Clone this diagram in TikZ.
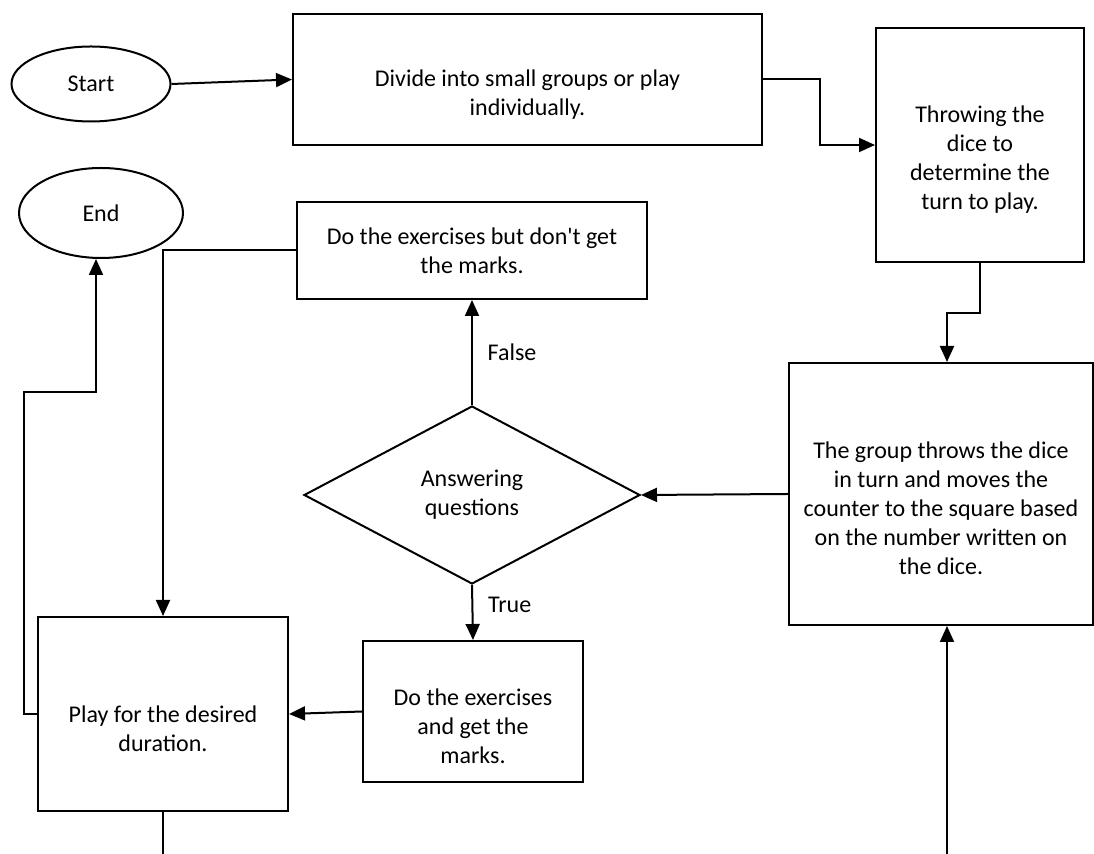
\documentclass[tikz,border=0pt]{standalone}
\usepackage{fontspec}
\setmainfont{Carlito}
\usetikzlibrary{arrows.meta,shapes.geometric}
\newcommand{\lowline}{\rule{0pt}{23pt}}

\begin{document}
\begin{tikzpicture}[x=0.5pt,y=-0.5pt,
  every node/.style={font=\fontsize{12}{14.5}\selectfont},
  flowbox/.style={draw, line width=1pt, align=center, inner sep=2pt},
  terminal/.style={draw, ellipse, line width=1pt},
  decision/.style={draw, diamond, line width=1pt, align=center, inner sep=0pt},
  arr/.style={line width=1pt, -{Triangle[length=8pt,width=7pt]}},
  link/.style={line width=1pt}]
\useasboundingbox (0,0) rectangle (1094,854);

% Start and end
\node[terminal, minimum width=79.5pt, minimum height=37.5pt] (start) at (91,84) {Start};
\node[terminal, minimum width=82pt, minimum height=45pt] (ending) at (101,213) {End};

% Top row
\node[flowbox, minimum width=234.5pt, minimum height=65.5pt] (divide) at (527.5,79.5)
  {\lowline Divide into small groups or play\\individually.};
\node[flowbox, minimum width=104pt, minimum height=117pt] (throwing) at (980,145)
  {\lowline Throwing the\\dice to\\determine the\\turn to play.};

% Middle
\node[flowbox, minimum width=175pt, minimum height=48.5pt] (dontget) at (472,250.5)
  {Do the exercises but don\textquotesingle t get\\the marks.};
\node[decision, minimum width=168pt, minimum height=89pt] (answer) at (472,495)
  {Answering\\questions};
\node[flowbox, minimum width=152pt, minimum height=131pt] (group) at (941,494)
  {\lowline The group throws the dice\\in turn and moves the\\counter to the square based\\on the number written on\\the dice.};

% Bottom row
\node[flowbox, minimum width=110pt, minimum height=70.5pt] (doget) at (473,711.5)
  {\lowline Do the exercises\\and get the\\marks.};
\node[flowbox, minimum width=125pt, minimum height=97pt] (play) at (163,714)
  {\lowline Play for the desired\\duration.};

% Loose ends at the lower edge
\coordinate (bend) at (24,392);
\coordinate (playout) at (163,854);
\coordinate (loopin) at (947,854);

% Connectors
\draw[arr] (start.east) -- (divide.west);
\draw[arr] (divide.east) -- ++(57,0) |- (throwing.west);
\draw[arr] (throwing.south) -- ++(0,50) -| (loopin |- group.north);
\draw[arr] (group.west) -- (answer.east);
\draw[arr] (answer.north) -- node[right, xshift=4pt] {False} (dontget.south);
\draw[arr] (answer.south) -- node[right, xshift=4pt, yshift=4pt] {True} (doget.north);
\draw[arr] (doget.west) -- (play.east);
\draw[arr] (dontget.west) -| (play.north);
\draw[arr] (play.west) -| (bend) -| ([xshift=-2.5pt]ending.south);
\draw[link] (play.south) -- (playout);
\draw[arr] (loopin) -- (loopin |- group.south);
\end{tikzpicture}
\end{document}
